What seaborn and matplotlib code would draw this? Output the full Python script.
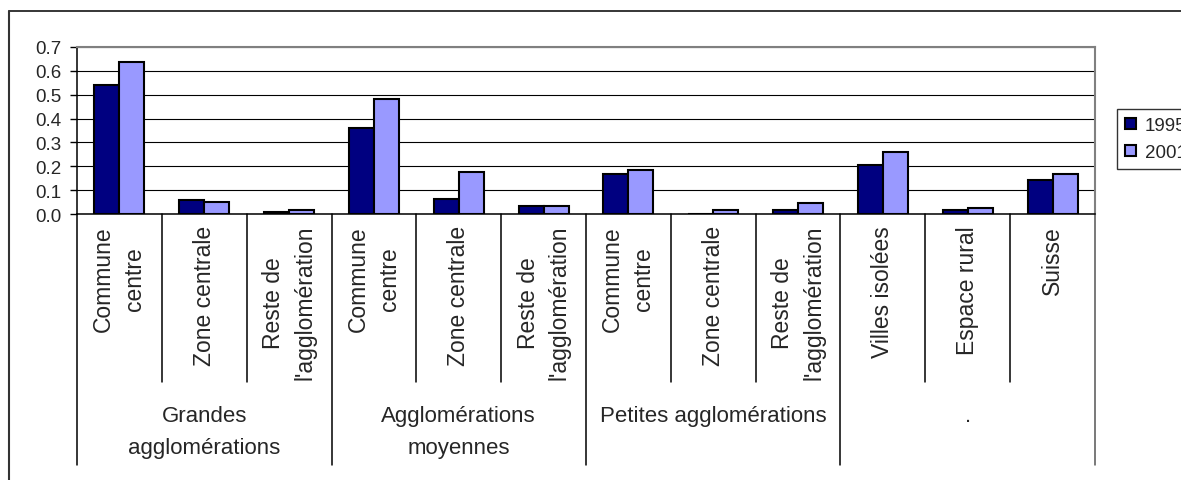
import numpy as np
import pandas as pd
import matplotlib
matplotlib.use("Agg")
import matplotlib.pyplot as plt
from matplotlib.lines import Line2D
import seaborn as sns

# === Data ===
groups = ["Grandes\nagglomérations", "Agglomérations\nmoyennes", "Petites agglomérations", "."]
group_sizes = [3, 3, 3, 3]
categories = [
    "Commune\ncentre", "Zone centrale", "Reste de\nl'agglomération",
    "Commune\ncentre", "Zone centrale", "Reste de\nl'agglomération",
    "Commune\ncentre", "Zone centrale", "Reste de\nl'agglomération",
    "Villes isolées", "Espace rural", "Suisse",
]
years = ["1995", "2001"]
v1995 = [0.539, 0.060, 0.008, 0.360, 0.063, 0.035, 0.169, 0.0, 0.017, 0.206, 0.017, 0.143]
v2001 = [0.637, 0.052, 0.017, 0.483, 0.178, 0.035, 0.186, 0.017, 0.045, 0.259, 0.025, 0.169]
yticks = [0.0, 0.1, 0.2, 0.3, 0.4, 0.5, 0.6, 0.7]
colors = ["#000080", "#9999FF"]

# === Config ===
W, H = 1181, 481
ax_left, ax_right, ax_top, ax_bottom = 77, 1095, 48, 215

sns.set_theme(style="white")
plt.rcParams["font.family"] = ["Liberation Sans", "DejaVu Sans"]

keys = [str(i) for i in range(len(categories))]
df = pd.DataFrame({
    "pos": keys * 2,
    "value": v1995 + v2001,
    "year": [years[0]] * len(keys) + [years[1]] * len(keys),
})

fig = plt.figure(figsize=(W / 100, H / 100), dpi=100)
ax = fig.add_axes([ax_left / W, 1 - ax_bottom / H,
                   (ax_right - ax_left) / W, (ax_bottom - ax_top) / H])

sns.barplot(data=df, x="pos", y="value", hue="year", order=keys, hue_order=years,
            palette=colors, width=0.59, saturation=1, edgecolor="black",
            linewidth=1.5, ax=ax, zorder=3)

ax.set_xlim(-0.5, len(keys) - 0.5)
ax.set_ylim(0, 0.7)
ax.set_yticks(yticks)
ax.set_yticklabels([f"{t:.1f}" for t in yticks], fontsize=13.5)
ax.set_xticks([])
ax.set_xlabel("")
ax.set_ylabel("")
ax.tick_params(axis="y", length=5, width=1, color="black", direction="out", pad=6, left=True)
ax.yaxis.grid(True, color="black", linewidth=0.8, zorder=0)
ax.set_axisbelow(True)

for side in ["left", "bottom"]:
    ax.spines[side].set_color("black")
    ax.spines[side].set_linewidth(1.1)
for side in ["top", "right"]:
    ax.spines[side].set_color("#808080")
    ax.spines[side].set_linewidth(1.5)


def yfrac(py):
    # pixel row -> axes fraction
    return (ax_bottom - py) / (ax_bottom - ax_top)


trans = ax.get_xaxis_transform()

# category / group separators below the axis
bounds = np.cumsum([0] + group_sizes)
for i in range(len(keys) + 1):
    end = 466 if i in bounds else 383
    col = "#555555" if i == len(keys) else "black"
    ax.plot([i - 0.5, i - 0.5], [0, yfrac(end)], color=col, lw=1.1,
            transform=trans, clip_on=False)

# rotated category labels
for i, lab in enumerate(categories):
    ax.text(i, yfrac(226), lab, rotation=90, ha="center", va="top",
            multialignment="center", fontsize=16.5, linespacing=1.45,
            transform=trans)

# group labels
for g, lab in enumerate(groups):
    center = (bounds[g] + bounds[g + 1] - 1) / 2
    ax.text(center, yfrac(406), lab, ha="center", va="top",
            multialignment="center", fontsize=16, linespacing=1.7,
            transform=trans)

# legend
handles, labels = ax.get_legend_handles_labels()
leg = ax.legend(handles, labels, loc="upper left",
                bbox_to_anchor=(1117 / W, 1 - 110 / H), bbox_transform=fig.transFigure,
                fontsize=13.5, frameon=True, fancybox=False, handlelength=0.55,
                handleheight=0.55, handletextpad=0.5, labelspacing=0.5,
                borderpad=0.45, borderaxespad=0)
leg.get_frame().set_edgecolor("black")
leg.get_frame().set_linewidth(1)

# outer chart border
fig.add_artist(Line2D([9 / W, 1.01], [1 - 12 / H, 1 - 12 / H], color="black", lw=1.1,
                      transform=fig.transFigure))
fig.add_artist(Line2D([9 / W, 9 / W], [-0.01, 1 - 12 / H], color="#333333", lw=1.5,
                      transform=fig.transFigure))

fig.savefig("out.png", dpi=100)
